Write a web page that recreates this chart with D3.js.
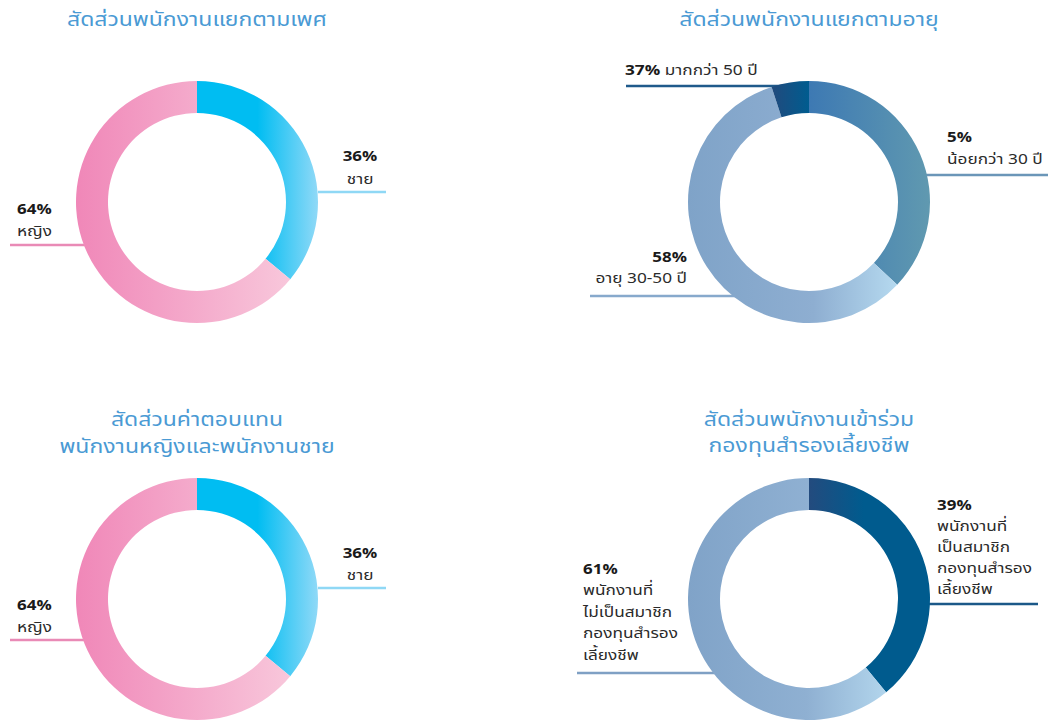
<!DOCTYPE html>
<html>
<head>
<meta charset="utf-8">
<script src="https://cdn.jsdelivr.net/npm/d3@7"></script>
<style>
  html, body { margin: 0; padding: 0; background: #ffffff; }
  svg { display: block; font-family: "Noto Sans Thai", "Noto Sans", "DejaVu Sans", sans-serif; }
</style>
</head>
<body>
<svg id="chart" width="1048" height="722"></svg>
<script>
// ---------- data ----------
const genderTitle = ["สัดส่วนพนักงานแยกตามเพศ"];
const genderCategories = ["ชาย", "หญิง"];
const genderValues = [36, 64];
const genderPctLabels = ["36%", "64%"];

const ageTitle = ["สัดส่วนพนักงานแยกตามอายุ"];
// slices clockwise from 12 o'clock, with the labels as printed on each
const ageCategories = ["น้อยกว่า 30 ปี", "อายุ 30-50 ปี", "มากกว่า 50 ปี"];
const ageValues = [37, 58, 5];
const agePctLabels = ["5%", "58%", "37%"];

const payTitle = ["สัดส่วนค่าตอบแทน", "พนักงานหญิงและพนักงานชาย"];
const payCategories = ["ชาย", "หญิง"];
const payValues = [36, 64];
const payPctLabels = ["36%", "64%"];

const fundTitle = ["สัดส่วนพนักงานเข้าร่วม", "กองทุนสำรองเลี้ยงชีพ"];
const fundCategories = [["พนักงานที่", "เป็นสมาชิก", "กองทุนสำรอง", "เลี้ยงชีพ"],
                        ["พนักงานที่", "ไม่เป็นสมาชิก", "กองทุนสำรอง", "เลี้ยงชีพ"]];
const fundValues = [39, 61];
const fundPctLabels = ["39%", "61%"];

// ---------- drawing ----------
const svg = d3.select("#chart");
const defs = svg.append("defs");
const TITLE_COLOR = "#4a9ad4";
const R_OUT = 121, R_IN = 89;
const arc = d3.arc().innerRadius(R_IN).outerRadius(R_OUT);
const pie = d3.pie().sort(null).value(d => d);
const TITLE_SX = 1.21, LABEL_SX = 1.15, PCT_SX = 1.13;

function gradient(id, stops) {
  const g = defs.append("linearGradient").attr("id", id)
    .attr("x1", 0).attr("y1", 0).attr("x2", 1).attr("y2", 0);
  stops.forEach(s => g.append("stop").attr("offset", s[0]).attr("stop-color", s[1]));
  return "url(#" + id + ")";
}

// text horizontally widened around its anchor x (the reference face is a wide Thai font)
function wideText(x, y, sx, anchor, str, size, weight, color) {
  return svg.append("text")
    .attr("transform", `translate(${x},${y}) scale(${sx},1)`)
    .attr("x", 0).attr("y", 0).attr("text-anchor", anchor)
    .attr("dominant-baseline", "central")
    .attr("font-size", size).attr("font-weight", weight).attr("fill", color).text(str);
}

function title(lines, cx, y0, gap) {
  lines.forEach((s, i) => wideText(cx, y0 + gap * i, TITLE_SX, "middle", s, 19, "normal", TITLE_COLOR));
}

function leader(x1, x2, y, color) {
  svg.append("line").attr("x1", x1).attr("x2", x2).attr("y1", y).attr("y2", y)
    .attr("stroke", color).attr("stroke-width", 2.6);
}

function label(x, y, anchor, pct, lines, gap) {
  wideText(x, y, PCT_SX, anchor, pct, 15, "bold", "#1a1a1a");
  lines.forEach((s, i) => wideText(x, y + gap * (i + 1), LABEL_SX, anchor, s, 15, "normal", "#2b2b2b"));
}

function donut(cx, cy, values, fills) {
  const g = svg.append("g").attr("transform", `translate(${cx},${cy})`);
  g.selectAll("path").data(pie(values)).join("path")
    .attr("d", arc).attr("fill", (d, i) => fills[i]);
}

// gradients
const gBlue = gradient("gBlue", [[0, "#00bdf2"], [0.5, "#00bdf2"], [1, "#90d9f7"]]);
const gPink = gradient("gPink", [[0, "#f087b8"], [1, "#f8c7db"]]);
const gSteel = gradient("gSteel", [[0, "#3d79b3"], [1, "#6099b0"]]);
const gLight = gradient("gLight", [[0, "#7fa3c8"], [0.6, "#8eaed1"], [1, "#b5d9ef"]]);
const gDark = gradient("gDark", [[0, "#214a7d"], [1, "#005c8f"]]);
const gDark2 = gradient("gDark2", [[0, "#234b7e"], [0.45, "#005b8e"], [1, "#005b8e"]]);
const gLight2 = gradient("gLight2", [[0, "#80a3c8"], [0.6, "#8fb0d2"], [1, "#b2d5ec"]]);

// ---- chart 1: gender ----
title(genderTitle, 197, 20, 27);
leader(318, 386, 192, "#8fd8f5");
leader(10, 90, 245, "#e98ab6");
donut(197, 202, genderValues, [gBlue, gPink]);
label(360, 156, "middle", genderPctLabels[0], [genderCategories[0]], 23);
label(17, 209, "start", genderPctLabels[1], [genderCategories[1]], 22);

// ---- chart 2: age ----
title(ageTitle, 809, 20, 27);
leader(626, 790, 86, "#1f5a8b");
leader(925, 1048, 175, "#6b96b8");
leader(590, 740, 296, "#87a9cc");
donut(809, 202, ageValues, [gSteel, gLight, gDark]);
{
  const t = svg.append("text").attr("transform", `translate(625,70) scale(${LABEL_SX},1)`)
    .attr("x", 0).attr("y", 0)
    .attr("dominant-baseline", "central").attr("fill", "#1a1a1a");
  t.append("tspan").attr("font-size", 15).attr("font-weight", "bold").text(agePctLabels[2]);
  t.append("tspan").attr("font-size", 15)
    .attr("fill", "#2b2b2b").text(" " + ageCategories[2]);
}
label(947, 137, "start", agePctLabels[0], [ageCategories[0]], 22);
label(687, 257, "end", agePctLabels[1], [ageCategories[1]], 21.5);

// ---- chart 3: compensation ----
title(payTitle, 197, 420, 27);
leader(318, 386, 588, "#8fd8f5");
leader(10, 90, 640, "#e98ab6");
donut(197, 599, payValues, [gBlue, gPink]);
label(360, 553, "middle", payPctLabels[0], [payCategories[0]], 22);
label(17, 605, "start", payPctLabels[1], [payCategories[1]], 22);

// ---- chart 4: provident fund ----
title(fundTitle, 809, 420, 26);
leader(925, 1038, 604, "#1b5888");
leader(577, 715, 673, "#7fa0c4");
donut(809, 599, fundValues, [gDark2, gLight2]);
label(937, 505, "start", fundPctLabels[0], fundCategories[0], 21);
label(583, 569, "start", fundPctLabels[1], fundCategories[1], 21.5);
</script>
</body>
</html>
